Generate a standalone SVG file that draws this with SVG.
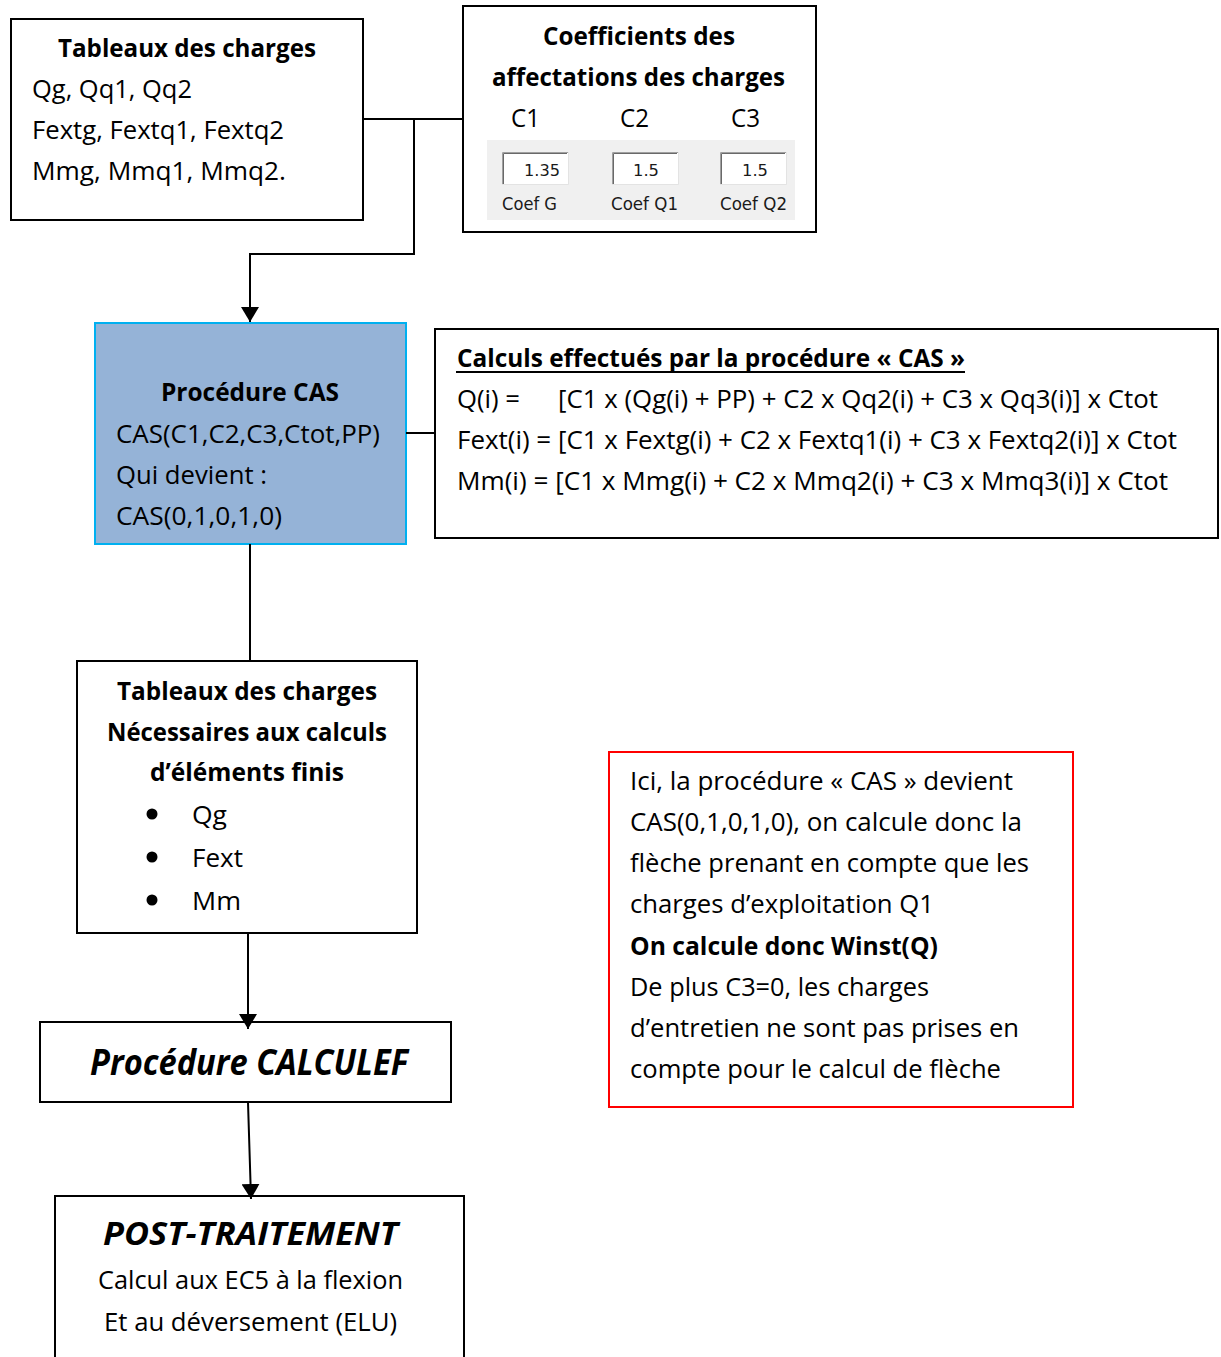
<svg xmlns="http://www.w3.org/2000/svg" width="1221" height="1357" viewBox="0 0 1221 1357">
<style>
.box{fill:#fff;stroke:#000;stroke-width:2}
.t{font-family:"Open Sans","Liberation Sans",sans-serif;font-size:25.5px;fill:#000}
.b{font-weight:bold}
.bi{font-weight:bold;font-style:italic}
.con{fill:none;stroke:#000;stroke-width:2}
.ui{font-family:"DejaVu Sans","Liberation Sans",sans-serif;fill:#1a1a1a}
</style>
<defs>
<marker id="arr" markerUnits="userSpaceOnUse" markerWidth="15" markerHeight="18" refX="15" refY="9" orient="auto" viewBox="0 0 15 18">
<path d="M0,0 L15,9 L0,18 Z" fill="#000"/>
</marker>
</defs>
<rect width="1221" height="1357" fill="#fff"/>

<g id="tableaux-charges">
<rect class="box" x="11" y="19" width="352" height="201"/>
<text class="t b" x="58" y="57" textLength="258" lengthAdjust="spacingAndGlyphs">Tableaux des charges</text>
<text class="t" x="32" y="98" textLength="160" lengthAdjust="spacingAndGlyphs">Qg, Qq1, Qq2</text>
<text class="t" x="32" y="139" textLength="252" lengthAdjust="spacingAndGlyphs">Fextg, Fextq1, Fextq2</text>
<text class="t" x="32" y="180" textLength="254" lengthAdjust="spacingAndGlyphs">Mmg, Mmq1, Mmq2.</text>
</g>

<g id="coefficients">
<rect class="box" x="463" y="6" width="353" height="226"/>
<text class="t b" x="543" y="45" textLength="192" lengthAdjust="spacingAndGlyphs">Coefficients des</text>
<text class="t b" x="492" y="86" textLength="293" lengthAdjust="spacingAndGlyphs">affectations des charges</text>
<text class="t" x="511" y="127" textLength="29" lengthAdjust="spacingAndGlyphs">C1</text>
<text class="t" x="620" y="127" textLength="29" lengthAdjust="spacingAndGlyphs">C2</text>
<text class="t" x="731" y="127" textLength="29" lengthAdjust="spacingAndGlyphs">C3</text>
<rect x="487" y="140" width="308" height="80" fill="#f0f0f0"/>
<g>
<rect x="502" y="152" width="66" height="32" fill="#fff"/>
<path d="M502.5,184 V152.5 H568" fill="none" stroke="#a0a0a0" stroke-width="1"/>
<path d="M503.5,184 V153.5 H567" fill="none" stroke="#696969" stroke-width="1"/>
<path d="M502,184.5 H568.5 V152" fill="none" stroke="#e3e3e3" stroke-width="1"/>
<text class="ui" x="524" y="176" font-size="16" textLength="36" lengthAdjust="spacingAndGlyphs">1.35</text>
</g>
<g>
<rect x="612" y="152" width="66" height="32" fill="#fff"/>
<path d="M612.5,184 V152.5 H678" fill="none" stroke="#a0a0a0" stroke-width="1"/>
<path d="M613.5,184 V153.5 H677" fill="none" stroke="#696969" stroke-width="1"/>
<path d="M612,184.5 H678.5 V152" fill="none" stroke="#e3e3e3" stroke-width="1"/>
<text class="ui" x="633" y="176" font-size="16" textLength="26" lengthAdjust="spacingAndGlyphs">1.5</text>
</g>
<g>
<rect x="720" y="152" width="66" height="32" fill="#fff"/>
<path d="M720.5,184 V152.5 H786" fill="none" stroke="#a0a0a0" stroke-width="1"/>
<path d="M721.5,184 V153.5 H785" fill="none" stroke="#696969" stroke-width="1"/>
<path d="M720,184.5 H786.5 V152" fill="none" stroke="#e3e3e3" stroke-width="1"/>
<text class="ui" x="742" y="176" font-size="16" textLength="26" lengthAdjust="spacingAndGlyphs">1.5</text>
</g>
<text class="ui" x="502" y="210" font-size="17" textLength="55" lengthAdjust="spacingAndGlyphs">Coef G</text>
<text class="ui" x="611" y="210" font-size="17" textLength="67" lengthAdjust="spacingAndGlyphs">Coef Q1</text>
<text class="ui" x="720" y="210" font-size="17" textLength="67" lengthAdjust="spacingAndGlyphs">Coef Q2</text>
</g>

<g id="procedure-cas">
<rect x="95" y="323" width="311" height="221" fill="#95b3d7" stroke="#00b0f0" stroke-width="2"/>
<text class="t b" x="161" y="401" textLength="178" lengthAdjust="spacingAndGlyphs">Procédure CAS</text>
<text class="t" x="116" y="443" textLength="264" lengthAdjust="spacingAndGlyphs">CAS(C1,C2,C3,Ctot,PP)</text>
<text class="t" x="116" y="484" textLength="151" lengthAdjust="spacingAndGlyphs">Qui devient :</text>
<text class="t" x="116" y="525" textLength="166" lengthAdjust="spacingAndGlyphs">CAS(0,1,0,1,0)</text>
</g>

<g id="calculs">
<rect class="box" x="435" y="329" width="783" height="209"/>
<text class="t b" x="457" y="367" textLength="508" lengthAdjust="spacingAndGlyphs">Calculs effectués par la procédure « CAS »</text>
<line x1="456" y1="372" x2="965" y2="372" stroke="#000" stroke-width="2"/>
<text class="t" x="457" y="408" textLength="63" lengthAdjust="spacingAndGlyphs">Q(i) =</text>
<text class="t" x="558" y="408" textLength="600" lengthAdjust="spacingAndGlyphs">[C1 x (Qg(i) + PP) + C2 x Qq2(i) + C3 x Qq3(i)] x Ctot</text>
<text class="t" x="457" y="449" textLength="720" lengthAdjust="spacingAndGlyphs">Fext(i) = [C1 x Fextg(i) + C2 x Fextq1(i) + C3 x Fextq2(i)] x Ctot</text>
<text class="t" x="457" y="490" textLength="711" lengthAdjust="spacingAndGlyphs">Mm(i) = [C1 x Mmg(i) + C2 x Mmq2(i) + C3 x Mmq3(i)] x Ctot</text>
</g>

<g id="tableaux-ef">
<rect class="box" x="77" y="661" width="340" height="272"/>
<text class="t b" x="117" y="700" textLength="260" lengthAdjust="spacingAndGlyphs">Tableaux des charges</text>
<text class="t b" x="107" y="741" textLength="280" lengthAdjust="spacingAndGlyphs">Nécessaires aux calculs</text>
<text class="t b" x="150" y="781" textLength="194" lengthAdjust="spacingAndGlyphs">d’éléments finis</text>
<circle cx="152" cy="814" r="5.5" fill="#000"/>
<circle cx="152" cy="857" r="5.5" fill="#000"/>
<circle cx="152" cy="900" r="5.5" fill="#000"/>
<text class="t" x="192" y="824" textLength="35" lengthAdjust="spacingAndGlyphs">Qg</text>
<text class="t" x="192" y="867" textLength="51" lengthAdjust="spacingAndGlyphs">Fext</text>
<text class="t" x="192" y="910" textLength="49" lengthAdjust="spacingAndGlyphs">Mm</text>
</g>

<g id="procedure-calculef">
<rect class="box" x="40" y="1022" width="411" height="80"/>
<text class="t bi" x="90" y="1075" style="font-size:35px" textLength="318" lengthAdjust="spacingAndGlyphs">Procédure CALCULEF</text>
</g>

<g id="post-traitement">
<path class="box" d="M55,1357 V1196 H464 V1357"/>
<text class="t bi" x="103" y="1245" style="font-size:33px" textLength="295" lengthAdjust="spacingAndGlyphs">POST-TRAITEMENT</text>
<text class="t" x="98" y="1289" textLength="305" lengthAdjust="spacingAndGlyphs">Calcul aux EC5 à la flexion</text>
<text class="t" x="104" y="1331" textLength="293" lengthAdjust="spacingAndGlyphs">Et au déversement (ELU)</text>
</g>

<g id="note">
<rect x="609" y="752" width="464" height="355" fill="#fff" stroke="#ff0000" stroke-width="2"/>
<text class="t" x="630" y="790" textLength="383" lengthAdjust="spacingAndGlyphs">Ici, la procédure « CAS » devient</text>
<text class="t" x="630" y="831" textLength="392" lengthAdjust="spacingAndGlyphs">CAS(0,1,0,1,0), on calcule donc la</text>
<text class="t" x="630" y="872" textLength="399" lengthAdjust="spacingAndGlyphs">flèche prenant en compte que les</text>
<text class="t" x="630" y="913" textLength="304" lengthAdjust="spacingAndGlyphs">charges d’exploitation Q1</text>
<text class="t b" x="630" y="955" textLength="308" lengthAdjust="spacingAndGlyphs">On calcule donc Winst(Q)</text>
<text class="t" x="630" y="996" textLength="299" lengthAdjust="spacingAndGlyphs">De plus C3=0, les charges</text>
<text class="t" x="630" y="1037" textLength="389" lengthAdjust="spacingAndGlyphs">d’entretien ne sont pas prises en</text>
<text class="t" x="630" y="1078" textLength="371" lengthAdjust="spacingAndGlyphs">compte pour le calcul de flèche</text>
</g>

<g id="connectors">
<path class="con" d="M363,119 H463"/>
<path class="con" d="M414,119 V254 H250 V322" marker-end="url(#arr)"/>
<path class="con" d="M406,433 H435"/>
<path class="con" d="M250,544 V661"/>
<path class="con" d="M248,933 V1029" marker-end="url(#arr)"/>
<path class="con" d="M248,1102 L251,1199" marker-end="url(#arr)"/>
</g>
</svg>
